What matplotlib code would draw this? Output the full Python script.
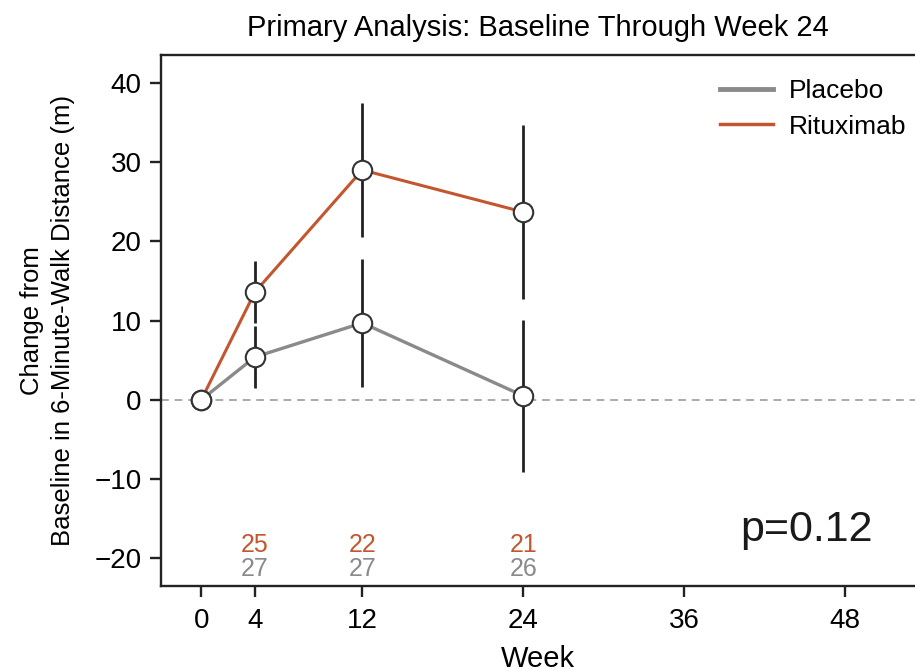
import numpy as np
import matplotlib
matplotlib.use("Agg")
import matplotlib.pyplot as plt

plt.rcParams['font.family'] = ['Liberation Sans', 'DejaVu Sans']

weeks = [0, 4, 12, 24]
ritux = [0, 13.6, 29.0, 23.7]
ritux_err = [0, 3.9, 8.5, 11.0]
placebo = [0, 5.4, 9.7, 0.5]
placebo_err = [0, 3.9, 8.1, 9.6]

n_weeks = [4, 12, 24]
n_ritux = ['25', '22', '21']
n_placebo = ['27', '27', '26']

c_ritux = '#c4562f'
c_plac = '#8a8a8a'
c_dark = '#222222'

fig = plt.figure(figsize=(9.15, 6.72), dpi=100)
ax = fig.add_axes([0.176, 0.128, 0.824, 0.79])

ax.axhline(0, color='#aaaaaa', linestyle=(0, (4, 3)), linewidth=1.4, zorder=1)

# error bars (skip baseline)
ax.errorbar(weeks[1:], placebo[1:], yerr=placebo_err[1:], fmt='none',
            ecolor=c_dark, elinewidth=2, capsize=0, zorder=2)
ax.errorbar(weeks[1:], ritux[1:], yerr=ritux_err[1:], fmt='none',
            ecolor=c_dark, elinewidth=2, capsize=0, zorder=2)

ax.plot(weeks, placebo, color=c_plac, linewidth=2.4, zorder=3)
ax.plot(weeks, ritux, color=c_ritux, linewidth=2.2, zorder=3)
ax.plot(weeks, placebo, linestyle='none', marker='o', markersize=14,
        markerfacecolor='white', markeredgecolor='#333333', markeredgewidth=1.5, zorder=4)
ax.plot(weeks, ritux, linestyle='none', marker='o', markersize=14,
        markerfacecolor='white', markeredgecolor='#333333', markeredgewidth=1.5, zorder=4)

# legend handles
ax.plot([], [], color=c_plac, linewidth=3.5, label='Placebo')
ax.plot([], [], color=c_ritux, linewidth=2.5, label='Rituximab')
ax.legend(loc='upper right', frameon=False, fontsize=19, handlelength=2.0,
          handletextpad=0.6, labelspacing=0.45, bbox_to_anchor=(1.02, 1.0))

for w, a, b in zip(n_weeks, n_ritux, n_placebo):
    ax.text(w, -18.3, a, color=c_ritux, fontsize=18, ha='center', va='center')
    ax.text(w, -21.3, b, color=c_plac, fontsize=18, ha='center', va='center')

ax.text(45.1, -16.4, 'p=0.12', fontsize=31, ha='center', va='center', color='#1a1a1a')

ax.set_xlim(-3, 53.2)
ax.set_ylim(-23.5, 43.5)
ax.set_xticks([0, 4, 12, 24, 36, 48])
ax.set_yticks([-20, -10, 0, 10, 20, 30, 40])
ax.set_yticklabels(['\u221220', '\u221210', '0', '10', '20', '30', '40'])
ax.tick_params(axis='both', labelsize=20, length=8, width=1.7, color=c_dark, pad=6)
ax.tick_params(axis='x', pad=8)

for s in ['left', 'bottom', 'top']:
    ax.spines[s].set_linewidth(1.7)
    ax.spines[s].set_color(c_dark)
ax.spines['right'].set_visible(False)

ax.set_xlabel('Week', fontsize=21, labelpad=8)
ax.set_ylabel('Change from\nBaseline in 6-Minute-Walk Distance (m)', fontsize=18.5, labelpad=14,
              linespacing=1.35)
ax.set_title('Primary Analysis: Baseline Through Week 24', fontsize=21, pad=14)

fig.savefig('out.png', dpi=100)
